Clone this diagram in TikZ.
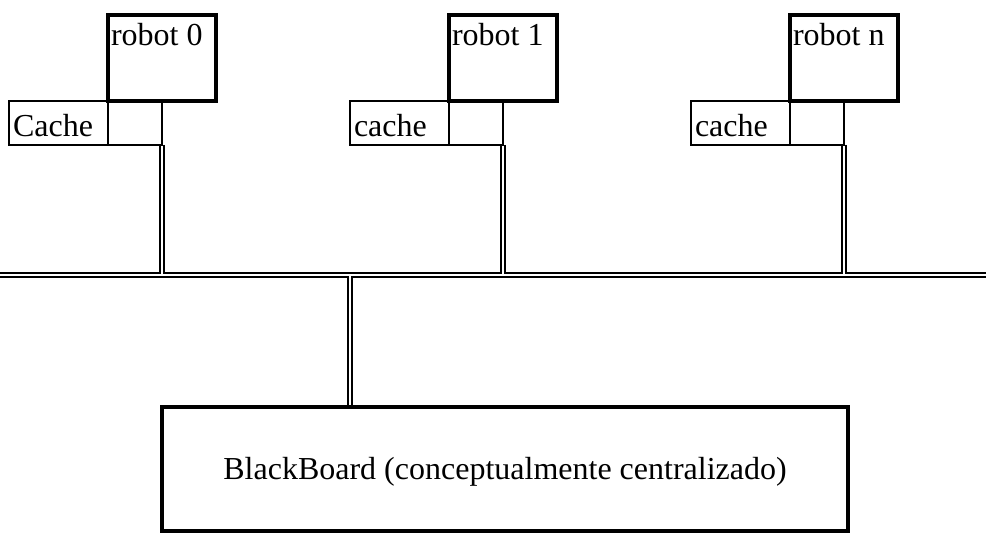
\documentclass[tikz,border=0pt]{standalone}
\usepackage{fontspec}
\setmainfont{Liberation Serif}
\begin{document}
\begin{tikzpicture}[x=1pt,y=-1pt,
  lbl/.style={anchor=base west, inner sep=0pt, outer sep=0pt, font=\fontsize{32}{38}\selectfont},
  robotbox/.style={draw, line width=4.5pt, minimum width=108pt, minimum height=86pt, inner sep=0pt, outer sep=0pt},
  cachebox/.style={draw, line width=2pt, minimum width=99pt, minimum height=44pt, inner sep=0pt, outer sep=0pt},
  portbox/.style={draw, line width=2pt, minimum width=54pt, minimum height=44pt, inner sep=0pt, outer sep=0pt},
  bbbox/.style={draw, line width=4.5pt, minimum width=686pt, minimum height=124pt, inner sep=0pt, outer sep=0pt},
  dblout/.style={line width=5.5pt},
  dblin/.style={white, line width=2pt}
]
\useasboundingbox (0,0) rectangle (986,534);

% cache and port boxes
\node[cachebox] (c0) at (58.5,123) {};
\node[portbox]  (p0) at (135,123) {};
\node[cachebox] (c1) at (399.5,123) {};
\node[portbox]  (p1) at (476,123) {};
\node[cachebox] (cn) at (740.5,123) {};
\node[portbox]  (pn) at (817,123) {};

% robot boxes
\node[robotbox] (r0) at (162,58) {};
\node[robotbox] (r1) at (503,58) {};
\node[robotbox] (rn) at (844,58) {};

% labels
\node[lbl] (r0t) at (111,46) {robot 0};
\node[lbl] (r1t) at (452,46) {robot 1};
\node[lbl] (rnt) at (793,46) {robot n};
\node[lbl] (c0t) at (13,137) {Cache};
\node[lbl] (c1t) at (354,137) {cache};
\node[lbl] (cnt) at (695,137) {cache};

% blackboard
\node[bbbox] (bb) at (505,469) {};
\node[anchor=base, inner sep=0pt, font=\fontsize{32}{38}\selectfont] (bbt) at (505,480) {BlackBoard (conceptualmente centralizado)};

% bus coordinates
\coordinate (busL) at (0,275);
\coordinate (busR) at (986,275);
\coordinate (bbtap) at (350,407);

% double lines: outer pass
\draw[dblout] (busL) -- (busR);
\draw[dblout] (p0.south east) -- (p0.south east |- busL);
\draw[dblout] (p1.south east) -- (p1.south east |- busL);
\draw[dblout] (pn.south east) -- (pn.south east |- busL);
\draw[dblout] (bbtap |- busL) -- (bbtap);

% double lines: inner pass
\draw[dblin] (busL) -- (busR);
\draw[dblin, shorten <=1.2pt] (p0.south east) -- (p0.south east |- busL);
\draw[dblin, shorten <=1.2pt] (p1.south east) -- (p1.south east |- busL);
\draw[dblin, shorten <=1.2pt] (pn.south east) -- (pn.south east |- busL);
\draw[dblin, shorten >=2.4pt] (bbtap |- busL) -- (bbtap);
\end{tikzpicture}
\end{document}
